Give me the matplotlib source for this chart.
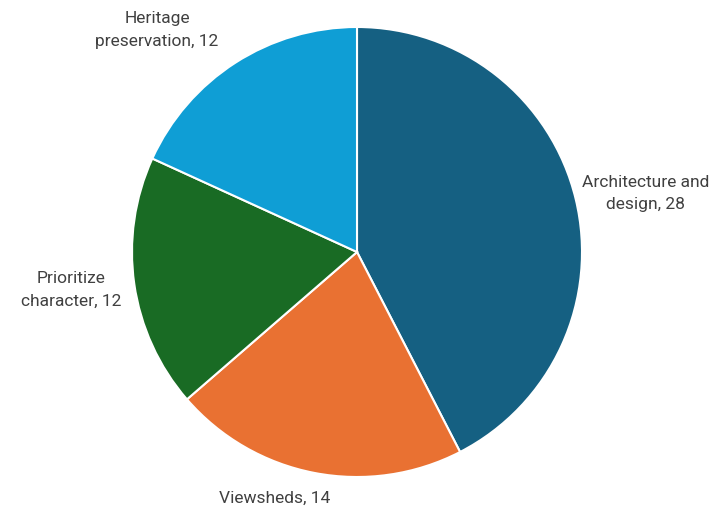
import numpy as np
import matplotlib.pyplot as plt
from matplotlib import font_manager

categories = ["Architecture and\ndesign", "Viewsheds", "Prioritize\ncharacter", "Heritage\npreservation"]
counts = [28, 14, 12, 12]
colors = ["#156082", "#E97132", "#196B24", "#0F9ED5"]

# label placement (distance from centre in radii, angle nudge in degrees)
label_dist = [1.31, 1.15, 1.28, 1.33]
label_nudge = [-2.0, -7.6, -0.8, 9.2]

names = {f.name for f in font_manager.fontManager.ttflist}
family = "Liberation Sans Narrow" if "Liberation Sans Narrow" in names else "Roboto"
plt.rcParams['font.family'] = [family, 'DejaVu Sans']

fig = plt.figure(figsize=(7.27, 5.10), dpi=100)
ax = fig.add_axes([132 / 727, 32 / 510, 450 / 727, 450 / 510])

wedges, _ = ax.pie(counts, colors=colors, startangle=90, counterclock=False,
                   radius=1.0, wedgeprops=dict(edgecolor="white", linewidth=1.5))

for w, cat, n, d, nudge in zip(wedges, categories, counts, label_dist, label_nudge):
    mid = np.deg2rad((w.theta1 + w.theta2) / 2 + nudge)
    ax.text(d * np.cos(mid), d * np.sin(mid), f"{cat}, {n}", ha="center", va="center",
            fontsize=12.5, color="#404040", linespacing=1.65, clip_on=False)

ax.set_xlim(-1, 1)
ax.set_ylim(-1, 1)
ax.set_aspect("equal")
ax.axis("off")

plt.savefig("out.png", dpi=100)
